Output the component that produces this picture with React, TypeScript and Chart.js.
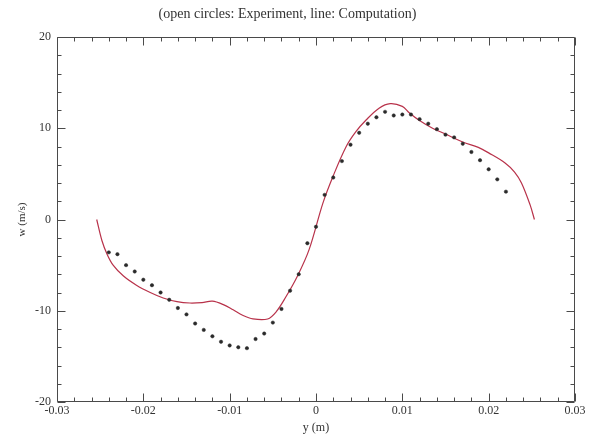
import React, { useEffect, useRef } from "react";
import { Chart, registerables } from "chart.js";

Chart.register(...registerables);

// Computation (line): y position (m) and velocity w (m/s)
const compY = [
  -0.0254, -0.0248, -0.0242, -0.0235, -0.0223, -0.0208, -0.0192, -0.0177, -0.0161, -0.0146,
  -0.0132, -0.012, -0.0108, -0.0096, -0.0085, -0.0073, -0.0056, -0.0046, -0.0035, -0.0021,
  -0.0008, 0.0008, 0.002, 0.0035, 0.0046, 0.0058, 0.0073, 0.0086, 0.01, 0.0108,
  0.0119, 0.0135, 0.0148, 0.017, 0.0188, 0.02, 0.0219, 0.023, 0.0238, 0.0248, 0.0253,
];
const compW = [
  0, -2.3, -3.8, -5.0, -6.2, -7.2, -8.0, -8.6, -9.0, -9.15,
  -9.1, -8.95, -9.3, -9.9, -10.5, -10.9, -10.9, -10.1, -8.5, -6.1,
  -3.3, 1.8, 4.8, 8.0, 9.6, 10.9, 12.2, 12.7, 12.4, 11.7,
  10.9, 10.0, 9.45, 8.5, 7.9, 7.3, 6.2, 5.2, 4.0, 1.6, 0,
];

// Experiment (open circles)
const expY = [
  -0.024, -0.023, -0.022, -0.021, -0.02, -0.019, -0.018, -0.017, -0.016, -0.015,
  -0.014, -0.013, -0.012, -0.011, -0.01, -0.009, -0.008, -0.007, -0.006, -0.005,
  -0.004, -0.003, -0.002, -0.001, 0, 0.001, 0.002, 0.003, 0.004, 0.005,
  0.006, 0.007, 0.008, 0.009, 0.01, 0.011, 0.012, 0.013, 0.014, 0.015,
  0.016, 0.017, 0.018, 0.019, 0.02, 0.021, 0.022,
];
const expW = [
  -3.6, -3.8, -5.0, -5.7, -6.6, -7.2, -8.0, -8.8, -9.7, -10.4,
  -11.4, -12.1, -12.8, -13.4, -13.8, -14.0, -14.1, -13.1, -12.5, -11.3,
  -9.8, -7.8, -6.0, -2.6, -0.8, 2.7, 4.6, 6.4, 8.2, 9.5,
  10.5, 11.2, 11.8, 11.4, 11.5, 11.5, 11.0, 10.5, 9.9, 9.3,
  9.0, 8.3, 7.4, 6.5, 5.5, 4.4, 3.05,
];

const xTickValues = [-0.03, -0.02, -0.01, 0, 0.01, 0.02, 0.03];
const xTickLabels = ["-0.03", "-0.02", "-0.01", "0", "0.01", "0.02", "0.03"];
const yTickValues = [-20, -10, 0, 10, 20];
const yTickLabels = ["-20", "-10", "0", "10", "20"];

const titleText = "(open circles: Experiment, line: Computation)";
const xTitle = "y (m)";
const yTitle = "w (m/s)";

const FONT = "'Liberation Serif', 'Times New Roman', serif";
const TEXT = "#333";
const FRAME = "#4a4a4a";

const framePlugin = {
  id: "frameTicks",
  afterDatasetsDraw(chart: any) {
    const { ctx, chartArea, scales } = chart;
    const { left, right, top, bottom } = chartArea;
    const xs = scales.x;
    const ys = scales.y;
    ctx.save();
    ctx.strokeStyle = FRAME;
    ctx.lineWidth = 1;
    ctx.beginPath();
    const L = Math.round(left) + 0.5;
    const R = Math.round(right) - 0.5;
    const T = Math.round(top) + 0.5;
    const B = Math.round(bottom) - 0.5;
    ctx.rect(L, T, R - L, B - T);
    for (let i = -15; i <= 15; i++) {
      const px = Math.round(xs.getPixelForValue(i * 0.002)) + 0.5;
      const len = i % 5 === 0 ? 8 : 4;
      ctx.moveTo(px, B);
      ctx.lineTo(px, B - len);
      ctx.moveTo(px, T);
      ctx.lineTo(px, T + len);
    }
    for (let j = -10; j <= 10; j++) {
      const py = Math.round(ys.getPixelForValue(j * 2)) + 0.5;
      const len = j % 5 === 0 ? 8 : 4;
      ctx.moveTo(L, py);
      ctx.lineTo(L + len, py);
      ctx.moveTo(R, py);
      ctx.lineTo(R - len, py);
    }
    ctx.stroke();
    ctx.restore();
  },
};

export default function App() {
  const ref = useRef<HTMLCanvasElement>(null);

  useEffect(() => {
    document.body.style.margin = "0";
    const canvas = ref.current;
    if (!canvas) return;
    const chart = new Chart(canvas, {
      type: "scatter",
      data: {
        datasets: [
          {
            label: "Computation",
            data: compY.map((v, i) => ({ x: v, y: compW[i] })),
            showLine: true,
            borderColor: "#b8324a",
            borderWidth: 1.2,
            pointRadius: 0,
            tension: 0.35,
            order: 2,
          },
          {
            label: "Experiment",
            data: expY.map((v, i) => ({ x: v, y: expW[i] })),
            showLine: false,
            pointRadius: 1.7,
            pointBackgroundColor: "#2a2a2a",
            pointBorderColor: "#2a2a2a",
            pointBorderWidth: 0.5,
            order: 1,
          },
        ],
      },
      options: {
        responsive: false,
        animation: false,
        devicePixelRatio: 1,
        layout: { padding: { left: 0, right: 20, top: 0, bottom: 0 } },
        plugins: {
          legend: { display: false },
          tooltip: { enabled: false },
          title: {
            display: true,
            text: titleText,
            color: TEXT,
            font: { family: FONT, size: 14, weight: "normal", lineHeight: 1.2 },
            padding: { top: 6, bottom: 14.2 },
          },
        },
        scales: {
          x: {
            type: "linear",
            min: -0.03,
            max: 0.03,
            afterBuildTicks: (scale: any) => {
              scale.ticks = xTickValues.map((v) => ({ value: v }));
            },
            afterFit: (scale: any) => {
              scale.height = 33;
            },
            grid: { display: false, drawTicks: false },
            border: { display: false },
            ticks: {
              color: TEXT,
              font: { family: FONT, size: 12 },
              padding: 2,
              maxRotation: 0,
              autoSkip: false,
              callback: (v: any) => {
                const i = xTickValues.findIndex((t) => Math.abs(t - v) < 1e-9);
                return i >= 0 ? xTickLabels[i] : "";
              },
            },
            title: {
              display: true,
              text: xTitle,
              color: TEXT,
              font: { family: FONT, size: 12, lineHeight: 1.2 },
              padding: { top: 0, bottom: 0 },
            },
          },
          y: {
            type: "linear",
            min: -20,
            max: 20,
            afterBuildTicks: (scale: any) => {
              scale.ticks = yTickValues.map((v) => ({ value: v }));
            },
            afterFit: (scale: any) => {
              scale.width = 57;
            },
            grid: { display: false, drawTicks: false },
            border: { display: false },
            ticks: {
              color: TEXT,
              font: { family: FONT, size: 12 },
              padding: 6,
              autoSkip: false,
              callback: (v: any) => {
                const i = yTickValues.findIndex((t) => Math.abs(t - v) < 1e-9);
                return i >= 0 ? yTickLabels[i] : "";
              },
            },
            title: {
              display: true,
              text: yTitle,
              color: TEXT,
              font: { family: FONT, size: 11, lineHeight: 1.2 },
              padding: { top: 16, bottom: 0 },
            },
          },
        },
      },
      plugins: [framePlugin],
    } as any);
    return () => chart.destroy();
  }, []);

  return (
    <div style={{ width: 595, height: 435, background: "#fff" }}>
      <canvas ref={ref} width={595} height={435} />
    </div>
  );
}
